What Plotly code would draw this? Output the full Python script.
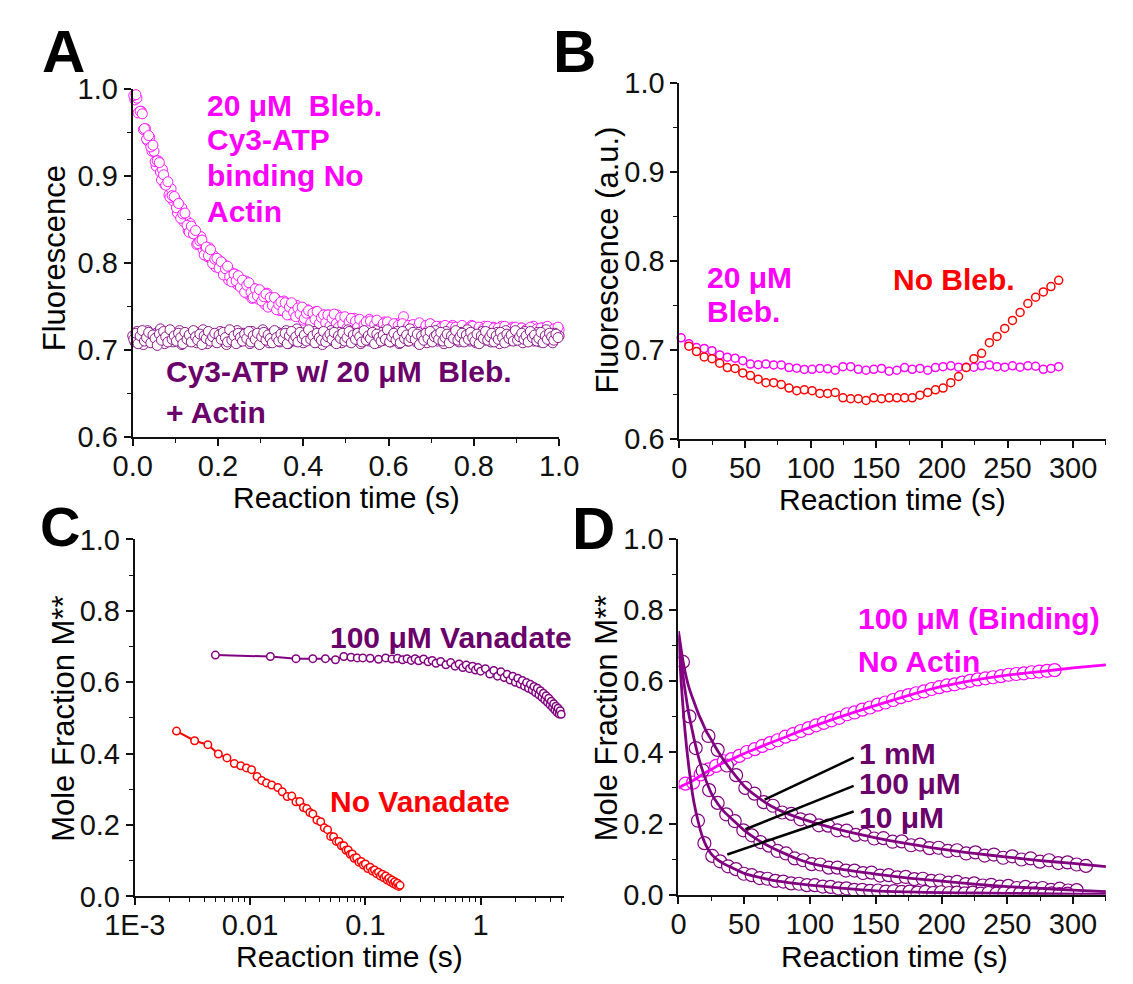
import plotly.graph_objects as go

# ---------------- data ----------------
# Panel A: Cy3-ATP binding with 20 uM blebbistatin, two interleaved shots
A_TIME = [round(0.005 * k, 4) for k in range(201)]
A_TIME_SHOT2 = [round(0.0025 + 0.005 * k, 4) for k in range(200)]
A_NO_ACTIN = [
    1.002, 0.987, 0.989, 0.973, 0.974, 0.953, 0.954, 0.940, 0.944, 0.928,
    0.928, 0.911, 0.917, 0.904, 0.907, 0.890, 0.890, 0.878, 0.885, 0.871,
    0.873, 0.857, 0.863, 0.863, 0.847, 0.849, 0.837, 0.845, 0.834, 0.837,
    0.821, 0.828, 0.830, 0.815, 0.818, 0.807, 0.817, 0.804, 0.808, 0.795,
    0.804, 0.794, 0.800, 0.787, 0.792, 0.780, 0.789, 0.780, 0.787, 0.775,
    0.779, 0.780, 0.771, 0.779, 0.764, 0.771, 0.759, 0.770, 0.765, 0.758,
    0.767, 0.758, 0.752, 0.765, 0.756, 0.751, 0.757, 0.759, 0.751, 0.745,
    0.754, 0.756, 0.743, 0.749, 0.740, 0.750, 0.741, 0.751, 0.739, 0.743,
    0.734, 0.745, 0.746, 0.737, 0.732, 0.741, 0.744, 0.733, 0.738, 0.728,
    0.740, 0.733, 0.740, 0.728, 0.736, 0.726, 0.740, 0.730, 0.735, 0.725,
    0.732, 0.726, 0.736, 0.726, 0.736, 0.723, 0.729, 0.733, 0.721, 0.730,
    0.725, 0.735, 0.722, 0.730, 0.723, 0.732, 0.720, 0.728, 0.732, 0.721,
    0.728, 0.717, 0.729, 0.722, 0.730, 0.719, 0.725, 0.738, 0.717, 0.726,
    0.720, 0.728, 0.716, 0.725, 0.728, 0.718, 0.726, 0.715, 0.727, 0.720,
    0.729, 0.716, 0.724, 0.715, 0.727, 0.720, 0.725, 0.714, 0.726, 0.718,
    0.728, 0.716, 0.723, 0.714, 0.726, 0.718, 0.724, 0.713, 0.723, 0.728,
    0.716, 0.722, 0.714, 0.725, 0.717, 0.727, 0.715, 0.723, 0.719, 0.726,
    0.712, 0.723, 0.715, 0.727, 0.717, 0.724, 0.713, 0.721, 0.726, 0.715,
    0.722, 0.713, 0.725, 0.717, 0.723, 0.712, 0.724, 0.716, 0.727, 0.714,
    0.721, 0.713, 0.725, 0.718, 0.726, 0.715, 0.723, 0.712, 0.724, 0.716,
    0.723,
]
A_NO_ACTIN_SHOT2 = [
    0.992, 0.993, 0.972, 0.974, 0.971, 0.954, 0.942, 0.946, 0.933, 0.935,
    0.916, 0.917, 0.915, 0.895, 0.901, 0.889, 0.893, 0.875, 0.877, 0.876,
    0.863, 0.868, 0.851, 0.856, 0.857, 0.843, 0.835, 0.842, 0.833, 0.837,
    0.822, 0.825, 0.826, 0.809, 0.818, 0.808, 0.815, 0.799, 0.804, 0.805,
    0.794, 0.801, 0.786, 0.793, 0.796, 0.784, 0.778, 0.787, 0.779, 0.785,
    0.772, 0.780, 0.766, 0.774, 0.777, 0.766, 0.760, 0.770, 0.762, 0.769,
    0.756, 0.761, 0.764, 0.749, 0.760, 0.751, 0.760, 0.746, 0.752, 0.755,
    0.745, 0.754, 0.740, 0.749, 0.754, 0.743, 0.738, 0.748, 0.741, 0.749,
    0.736, 0.742, 0.745, 0.731, 0.742, 0.735, 0.744, 0.730, 0.737, 0.740,
    0.731, 0.740, 0.727, 0.736, 0.741, 0.730, 0.726, 0.737, 0.730, 0.738,
    0.725, 0.732, 0.736, 0.721, 0.733, 0.726, 0.735, 0.722, 0.729, 0.732,
    0.723, 0.733, 0.720, 0.729, 0.734, 0.724, 0.720, 0.730, 0.724, 0.732,
    0.720, 0.726, 0.730, 0.716, 0.728, 0.721, 0.730, 0.717, 0.724, 0.728,
    0.719, 0.729, 0.716, 0.726, 0.731, 0.721, 0.717, 0.728, 0.722, 0.730,
    0.716, 0.723, 0.727, 0.713, 0.725, 0.718, 0.728, 0.715, 0.722, 0.726,
    0.716, 0.726, 0.713, 0.723, 0.728, 0.718, 0.714, 0.725, 0.719, 0.727,
    0.715, 0.722, 0.726, 0.712, 0.724, 0.717, 0.727, 0.714, 0.721, 0.725,
    0.715, 0.725, 0.712, 0.722, 0.727, 0.717, 0.713, 0.724, 0.718, 0.726,
    0.714, 0.721, 0.725, 0.711, 0.723, 0.716, 0.726, 0.713, 0.720, 0.724,
    0.715, 0.725, 0.712, 0.722, 0.727, 0.717, 0.713, 0.724, 0.718, 0.726,
]
A_ACTIN = [
    0.716, 0.709, 0.721, 0.712, 0.718, 0.706, 0.715, 0.722, 0.710, 0.717,
    0.708, 0.719, 0.713, 0.724, 0.711, 0.707, 0.718, 0.714, 0.720, 0.709,
    0.716, 0.712, 0.722, 0.706, 0.715, 0.719, 0.710, 0.717, 0.713, 0.721,
    0.708, 0.716, 0.711, 0.723, 0.714, 0.707, 0.719, 0.712, 0.718, 0.709,
    0.715, 0.721, 0.710, 0.716, 0.706, 0.720, 0.713, 0.717, 0.711, 0.722,
    0.709, 0.714, 0.719, 0.712, 0.716, 0.707, 0.721, 0.713, 0.718, 0.710,
    0.715, 0.723, 0.711, 0.717, 0.708, 0.719, 0.714, 0.712, 0.720, 0.709,
    0.716, 0.711, 0.722, 0.707, 0.715, 0.718, 0.710, 0.724, 0.713, 0.717,
    0.708, 0.720, 0.712, 0.716, 0.711, 0.721, 0.709, 0.715, 0.719, 0.706,
    0.714, 0.718, 0.711, 0.722, 0.710, 0.716, 0.713, 0.720, 0.708, 0.717,
    0.712, 0.723, 0.709, 0.715, 0.719, 0.711, 0.717, 0.707, 0.721, 0.713,
    0.716, 0.710, 0.718, 0.712, 0.722, 0.708, 0.715, 0.720, 0.711, 0.714,
    0.719, 0.709, 0.717, 0.713, 0.721, 0.707, 0.716, 0.712, 0.718, 0.710,
    0.724, 0.713, 0.715, 0.709, 0.720, 0.711, 0.717, 0.714, 0.708, 0.719,
    0.712, 0.716, 0.722, 0.710, 0.715, 0.718, 0.707, 0.721, 0.713, 0.717,
    0.711, 0.719, 0.714, 0.709, 0.720, 0.712, 0.716, 0.723, 0.710, 0.715,
    0.718, 0.708, 0.717, 0.713, 0.721, 0.711, 0.714, 0.719, 0.709, 0.716,
    0.712, 0.720, 0.707, 0.718, 0.714, 0.722, 0.710, 0.715, 0.717, 0.711,
    0.719, 0.713, 0.716, 0.708, 0.721, 0.712, 0.715, 0.718, 0.710, 0.714,
    0.720, 0.709, 0.717, 0.713, 0.723, 0.711, 0.716, 0.708, 0.719, 0.714,
    0.716,
]
A_ACTIN_SHOT2 = [
    0.712, 0.719, 0.707, 0.716, 0.722, 0.710, 0.714, 0.720, 0.708, 0.717,
    0.713, 0.705, 0.718, 0.711, 0.721, 0.715, 0.709, 0.723, 0.712, 0.716,
    0.710, 0.719, 0.714, 0.707, 0.720, 0.712, 0.717, 0.709, 0.722, 0.715,
    0.711, 0.718, 0.706, 0.716, 0.713, 0.721, 0.710, 0.715, 0.719, 0.708,
    0.717, 0.712, 0.720, 0.714, 0.709, 0.723, 0.711, 0.716, 0.707, 0.719,
    0.714, 0.710, 0.718, 0.713, 0.721, 0.709, 0.716, 0.712, 0.719, 0.706,
    0.715, 0.720, 0.711, 0.717, 0.713, 0.708, 0.722, 0.714, 0.710, 0.718,
    0.712, 0.719, 0.707, 0.716, 0.721, 0.711, 0.715, 0.709, 0.720, 0.713,
    0.717, 0.710, 0.723, 0.712, 0.716, 0.708, 0.719, 0.714, 0.711, 0.721,
    0.709, 0.715, 0.718, 0.712, 0.720, 0.707, 0.716, 0.713, 0.719, 0.710,
    0.714, 0.721, 0.708, 0.717, 0.712, 0.719, 0.715, 0.709, 0.722, 0.711,
    0.716, 0.713, 0.720, 0.707, 0.718, 0.714, 0.710, 0.717, 0.712, 0.723,
    0.709, 0.715, 0.719, 0.711, 0.716, 0.708, 0.721, 0.713, 0.717, 0.710,
    0.714, 0.720, 0.712, 0.718, 0.706, 0.716, 0.711, 0.719, 0.713, 0.721,
    0.709, 0.715, 0.717, 0.712, 0.720, 0.710, 0.714, 0.718, 0.708, 0.716,
    0.713, 0.722, 0.711, 0.715, 0.719, 0.709, 0.717, 0.712, 0.720, 0.714,
    0.710, 0.718, 0.707, 0.716, 0.713, 0.721, 0.711, 0.715, 0.719, 0.709,
    0.716, 0.712, 0.720, 0.714, 0.708, 0.718, 0.713, 0.717, 0.710, 0.722,
    0.711, 0.715, 0.719, 0.712, 0.716, 0.709, 0.721, 0.714, 0.717, 0.710,
    0.713, 0.720, 0.708, 0.716, 0.712, 0.719, 0.715, 0.711, 0.718, 0.714,
]

# Panel B: slow fluorescence traces
B_TIME = [
    1.3, 7.2, 13.0, 18.9, 24.8, 30.7, 36.5, 42.4, 48.3, 54.1,
    60.0, 65.9, 71.8, 77.6, 83.5, 89.4, 95.2, 101.1, 107.0, 112.9,
    118.7, 124.6, 130.5, 136.3, 142.2, 148.1, 154.0, 159.8, 165.7, 171.6,
    177.4, 183.3, 189.2, 195.1, 200.9, 206.8, 212.7, 218.5, 224.4, 230.3,
    236.2, 242.0, 247.9, 253.8, 259.6, 265.5, 271.4, 277.3, 283.1, 289.0,
]
B_BLEB = [
    0.7134, 0.7069, 0.7025, 0.7015, 0.699, 0.6942, 0.6917, 0.6906, 0.6877, 0.684,
    0.6833, 0.684, 0.683, 0.683, 0.680, 0.6793, 0.6779, 0.678, 0.679, 0.6786,
    0.677, 0.681, 0.681, 0.678, 0.677, 0.678, 0.679, 0.676, 0.677, 0.680,
    0.678, 0.679, 0.677, 0.680, 0.681, 0.682, 0.6805, 0.6805, 0.6805, 0.682,
    0.683, 0.681, 0.6805, 0.682, 0.6805, 0.682, 0.6815, 0.678, 0.679, 0.681,
]
B_NO_BLEB = [
    None, 0.704, 0.698, 0.692, 0.690, 0.685, 0.680, 0.679, 0.674, 0.671,
    0.667, 0.663, 0.663, 0.661, 0.657, 0.654, 0.655, 0.654, 0.651, 0.651,
    0.652, 0.646, 0.645, 0.645, 0.643, 0.646, 0.645, 0.646, 0.646, 0.646,
    0.646, 0.649, 0.652, 0.655, 0.657, 0.663, 0.670, 0.680, 0.690, 0.696,
    0.708, 0.715, 0.724, 0.733, 0.742, 0.752, 0.759, 0.765, 0.771, 0.778,
]

# Panel C: mole fraction M** on a log time axis
C_TIME_VAN = [
    0.005, 0.015, 0.025, 0.035, 0.045, 0.055, 0.065, 0.075, 0.085, 0.095,
    0.11, 0.13, 0.15, 0.17, 0.19, 0.21, 0.23, 0.25, 0.27, 0.29,
    0.32, 0.35, 0.38, 0.41, 0.45,
    0.5, 0.55, 0.6, 0.65, 0.7, 0.75, 0.8, 0.85, 0.9, 0.95, 1.0,
    1.1, 1.2, 1.3, 1.4, 1.5, 1.6, 1.7, 1.8, 1.9, 2.0,
    2.1, 2.2, 2.3, 2.4, 2.5, 2.6, 2.7, 2.8, 2.9, 3.0,
    3.1, 3.2, 3.3, 3.4, 3.5, 3.6, 3.7, 3.8, 3.9, 4.0,
    4.1, 4.2, 4.3, 4.4, 4.5, 4.6, 4.7, 4.8, 4.9, 5.0,
]
C_VAN = [
    0.676, 0.672, 0.666, 0.666, 0.666, 0.663, 0.672, 0.670, 0.668, 0.668,
    0.667, 0.664, 0.668, 0.665, 0.667, 0.663, 0.666, 0.661, 0.666, 0.660,
    0.665, 0.657, 0.661, 0.653, 0.658,
    0.649, 0.655, 0.645, 0.651, 0.641, 0.648, 0.638, 0.645, 0.634, 0.641, 0.631,
    0.638, 0.623, 0.633, 0.617, 0.629, 0.613, 0.622, 0.606, 0.617, 0.600,
    0.611, 0.595, 0.605, 0.589, 0.599, 0.583, 0.594, 0.578, 0.588, 0.571,
    0.583, 0.565, 0.576, 0.558, 0.569, 0.551, 0.562, 0.544, 0.555, 0.537,
    0.547, 0.530, 0.540, 0.523, 0.533, 0.516, 0.527, 0.511, 0.520, 0.510,
]
C_TIME_NO = [
    0.0023, 0.0033, 0.0043, 0.0053, 0.0063, 0.0073, 0.0083, 0.0093, 0.0103,
    0.0115, 0.0126, 0.0139, 0.0154, 0.0174,
    0.019, 0.021, 0.023, 0.025, 0.027, 0.029, 0.031, 0.033, 0.035,
    0.038, 0.041, 0.044, 0.047, 0.050, 0.053, 0.056, 0.059, 0.062, 0.065,
    0.068, 0.071, 0.074, 0.077, 0.080,
    0.084, 0.088, 0.092, 0.096, 0.100,
    0.105, 0.110, 0.115, 0.120, 0.125, 0.130, 0.135, 0.140, 0.145, 0.150,
    0.155, 0.160, 0.165, 0.170, 0.175, 0.180, 0.185, 0.190, 0.195, 0.200,
]
C_NO = [
    0.463, 0.436, 0.425, 0.399, 0.388, 0.372, 0.366, 0.360, 0.355,
    0.336, 0.325, 0.318, 0.312, 0.305,
    0.293, 0.280, 0.281, 0.265, 0.266, 0.249, 0.246, 0.235, 0.231,
    0.214, 0.209, 0.192, 0.187, 0.168, 0.167, 0.154, 0.154, 0.142, 0.142,
    0.129, 0.130, 0.118, 0.119, 0.107,
    0.108, 0.096, 0.098, 0.088, 0.091,
    0.078, 0.082, 0.071, 0.074, 0.064, 0.068, 0.057, 0.062, 0.052, 0.057,
    0.046, 0.051, 0.041, 0.046, 0.036, 0.041, 0.032, 0.037, 0.028, 0.031,
]
C_TICKVALS = [0.001, 0.01, 0.1, 1]
C_TICKTEXT = ["1E-3", "0.01", "0.1", "1"]

# Panel D: vanadate release / binding with fitted curves
D_FIT_TIME = [0, 2, 4, 6, 8, 10, 12, 15, 18, 21, 25, 30, 35, 40, 50, 60, 70, 80,
              90, 100, 120, 150, 175, 200, 225, 250, 275, 300, 325]
D_FIT_1MM = [0.74, 0.69, 0.645, 0.61, 0.582, 0.56, 0.54, 0.51, 0.485, 0.46, 0.435,
             0.403, 0.375, 0.35, 0.305, 0.275, 0.25, 0.232, 0.218, 0.206, 0.185,
             0.16, 0.143, 0.128, 0.116, 0.106, 0.096, 0.088, 0.079]
D_FIT_100UM = [0.73, 0.66, 0.60, 0.55, 0.505, 0.47, 0.435, 0.39, 0.352, 0.32, 0.285,
               0.255, 0.232, 0.215, 0.181, 0.155, 0.134, 0.117, 0.101, 0.089, 0.074,
               0.058, 0.047, 0.038, 0.030, 0.023, 0.018, 0.013, 0.009]
D_FIT_10UM = [0.72, 0.60, 0.50, 0.42, 0.355, 0.30, 0.255, 0.205, 0.165, 0.138, 0.114,
              0.097, 0.086, 0.077, 0.060, 0.050, 0.042, 0.036, 0.031, 0.027, 0.020,
              0.011, 0.008, 0.006, 0.005, 0.004, 0.003, 0.002, 0.002]
D_FIT_BIND = [0.30, 0.304, 0.308, 0.312, 0.315, 0.318, 0.323, 0.330, 0.337, 0.344,
              0.352, 0.363, 0.372, 0.380, 0.397, 0.412, 0.427, 0.441, 0.456, 0.470,
              0.496, 0.532, 0.560, 0.585, 0.603, 0.617, 0.627, 0.637, 0.646]

D_TIME_1MM = [3.4, 22.8, 29.8, 36.8, 43.8, 50.8, 57.8, 64.8, 71.8, 78.8, 85.8,
              92.8, 99.8, 106.8, 113.8, 120.8, 127.8, 134.8, 141.8, 148.8, 155.8,
              162.8, 169.8, 176.8, 183.8, 190.8, 197.8, 204.8, 211.8, 218.8, 225.8,
              232.8, 239.8, 246.8, 253.8, 260.8, 267.8, 274.8, 281.8, 288.8, 295.8,
              302.8, 309.8]
D_1MM = [0.654, 0.446, 0.407, 0.363, 0.336, 0.300, 0.284, 0.260, 0.250, 0.231, 0.227,
         0.212, 0.209, 0.195, 0.194, 0.181, 0.180, 0.168, 0.169, 0.158, 0.159,
         0.149, 0.150, 0.139, 0.141, 0.131, 0.132, 0.123, 0.125, 0.116, 0.119,
         0.110, 0.113, 0.104, 0.108, 0.099, 0.102, 0.093, 0.097, 0.089, 0.091,
         0.085, 0.081]
D_TIME_100UM = [8.3, 13.1, 18.4, 23.3, 29.8, 36.3, 42.8, 49.3, 55.8, 62.3, 68.8,
                75.3, 81.8, 88.3, 94.8, 101.3, 107.8, 114.3, 120.8, 127.3, 133.8,
                140.3, 146.8, 153.3, 159.8, 166.3, 172.8, 179.3, 185.8, 192.3, 198.8,
                205.3, 211.8, 218.3, 224.8, 231.3, 237.8, 244.3, 250.8, 257.3, 263.8,
                270.3, 276.8, 283.3, 289.8, 296.3, 302.8]
D_100UM = [0.501, 0.412, 0.349, 0.294, 0.258, 0.226, 0.207, 0.181, 0.167, 0.148, 0.138,
           0.123, 0.116, 0.102, 0.097, 0.086, 0.085, 0.076, 0.076, 0.068, 0.068,
           0.061, 0.062, 0.054, 0.055, 0.049, 0.050, 0.044, 0.045, 0.039, 0.040,
           0.034, 0.036, 0.030, 0.032, 0.026, 0.028, 0.023, 0.025, 0.019, 0.022,
           0.017, 0.019, 0.014, 0.017, 0.012, 0.013]
D_TIME_10UM = [14.8, 19.7, 25.7, 31.7, 37.7, 43.7, 49.7, 55.7, 61.7, 67.7, 73.7,
               79.7, 85.7, 91.7, 97.7, 103.7, 109.7, 115.7, 121.7, 127.7, 133.7,
               139.7, 145.7, 151.7, 157.7, 163.7, 169.7, 175.7, 181.7, 187.7, 193.7,
               199.7, 205.7, 211.7, 217.7, 223.7, 229.7, 235.7, 241.7, 247.7, 253.7,
               259.7, 265.7, 271.7, 277.7, 283.7, 289.7, 295.7]
D_10UM = [0.208, 0.145, 0.109, 0.094, 0.080, 0.072, 0.059, 0.055, 0.047, 0.045, 0.039,
          0.037, 0.032, 0.031, 0.027, 0.027, 0.023, 0.022, 0.018, 0.018, 0.014,
          0.014, 0.011, 0.012, 0.009, 0.010, 0.008, 0.009, 0.006, 0.008, 0.005,
          0.007, 0.005, 0.006, 0.004, 0.006, 0.003, 0.005, 0.003, 0.005, 0.003,
          0.004, 0.002, 0.004, 0.002, 0.004, 0.002, 0.003]
D_TIME_BIND = [5.2, 11.1, 16.9, 22.8, 28.6, 34.5, 40.3, 46.2, 52.0, 57.9, 63.7,
               69.6, 75.4, 81.3, 87.1, 93.0, 98.8, 104.7, 110.5, 116.4, 122.2,
               128.1, 133.9, 139.8, 145.6, 151.5, 157.3, 163.2, 169.0, 174.9, 180.7,
               186.6, 192.4, 198.3, 204.1, 210.0, 215.8, 221.7, 227.5, 233.4, 239.2,
               245.1, 250.9, 256.8, 262.6, 268.5, 274.3, 280.2, 286.0]
D_BIND = [0.312, 0.315, 0.338, 0.352, 0.362, 0.375, 0.381, 0.390, 0.401, 0.409, 0.418,
          0.426, 0.434, 0.444, 0.451, 0.460, 0.468, 0.476, 0.483, 0.490, 0.497,
          0.507, 0.512, 0.520, 0.526, 0.534, 0.540, 0.547, 0.555, 0.561, 0.566,
          0.571, 0.578, 0.583, 0.588, 0.591, 0.596, 0.601, 0.605, 0.608, 0.611,
          0.614, 0.618, 0.620, 0.622, 0.625, 0.627, 0.629, 0.631]

# pointer lines from the concentration labels to the curves (data units, panel D)
D_POINTERS = [
    (65.5, 0.267, 133.2, 0.385),
    (50.9, 0.184, 133.2, 0.306),
    (37.1, 0.113, 133.2, 0.234),
]

# ---------------- style ----------------
W, H = 1133, 984
FONT = "Liberation Sans, Arial, Helvetica, sans-serif"
MAGENTA = "#FF00FF"
RED = "#FF0000"
PURPLE = "#800080"
PURPLE_TEXT = "#6A006A"
INK = "#111111"


def px(x):
    return x / W


def py(y):
    return 1 - y / H


fig = go.Figure()


def circles(x, y, color, size, xa, ya, width=1.0, line=None, clip=True):
    mode = "lines+markers" if line else "markers"
    fig.add_trace(go.Scatter(
        x=x, y=y, mode=mode, xaxis=xa, yaxis=ya, cliponaxis=clip,
        marker=dict(symbol="circle", size=size, color="white",
                    line=dict(color=color, width=width)),
        line=dict(color=color, width=line or 0),
        showlegend=False, hoverinfo="skip",
    ))


def curve(x, y, color, xa, ya, width=2.8):
    fig.add_trace(go.Scatter(
        x=x, y=y, mode="lines", xaxis=xa, yaxis=ya,
        line=dict(color=color, width=width, shape="spline", smoothing=0.6),
        showlegend=False, hoverinfo="skip",
    ))


# Panel A
circles(A_TIME, A_NO_ACTIN, MAGENTA, 10, "x", "y", 0.9, clip=False)
circles(A_TIME_SHOT2, A_NO_ACTIN_SHOT2, MAGENTA, 10, "x", "y", 0.9, clip=False)
circles(A_TIME, A_ACTIN, PURPLE, 10, "x", "y", 0.9, clip=False)
circles(A_TIME_SHOT2, A_ACTIN_SHOT2, PURPLE, 10, "x", "y", 0.9, clip=False)
# Panel B
circles(B_TIME, B_BLEB, MAGENTA, 8, "x2", "y2", 1.5, clip=False)
circles(B_TIME, B_NO_BLEB, RED, 8, "x2", "y2", 1.5, clip=False)
# Panel C
circles(C_TIME_VAN, C_VAN, PURPLE, 7.5, "x3", "y3", 1.5, line=2, clip=False)
circles(C_TIME_NO, C_NO, RED, 7.5, "x3", "y3", 1.5, line=2, clip=False)
# Panel D
circles(D_TIME_BIND, D_BIND, MAGENTA, 13, "x4", "y4", 1.2)
circles(D_TIME_1MM, D_1MM, PURPLE, 13, "x4", "y4", 1.2)
circles(D_TIME_100UM, D_100UM, PURPLE, 13, "x4", "y4", 1.2)
circles(D_TIME_10UM, D_10UM, PURPLE, 13, "x4", "y4", 1.2)
curve(D_FIT_TIME, D_FIT_BIND, MAGENTA, "x4", "y4")
curve(D_FIT_TIME, D_FIT_1MM, PURPLE, "x4", "y4")
curve(D_FIT_TIME, D_FIT_100UM, PURPLE, "x4", "y4")
curve(D_FIT_TIME, D_FIT_10UM, PURPLE, "x4", "y4")

tickfont = dict(family=FONT, size=29, color=INK)


def axis(domain, anchor, rng, dtick, minor_dtick, fmt=None, **kw):
    d = dict(
        domain=domain, anchor=anchor, range=rng, dtick=dtick, tick0=0,
        showline=True, linewidth=2, linecolor=INK, mirror=False,
        ticks="outside", ticklen=7, tickwidth=1.6, tickcolor=INK,
        showgrid=False, zeroline=False, tickfont=tickfont,
        minor=dict(ticks="outside", ticklen=4, tickwidth=1.4, tickcolor=INK,
                   dtick=minor_dtick, showgrid=False),
        fixedrange=True,
    )
    if fmt:
        d["tickformat"] = fmt
    d.update(kw)
    return d


# x tick labels sit close under the axis
XSTAND = -5
xa_A = axis([px(106.5), px(553)], "y", [0, 1.0], 0.2, 0.1, ".1f", ticklabelstandoff=XSTAND)
ya_A = axis([py(435), py(75)], "x", [0.6, 1.0], 0.1, 0.05, ".1f")
xa_B = axis([px(679), px(1125.6)], "y2", [0, 325], 50, 25, ticklabelstandoff=XSTAND)
ya_B = axis([py(437), py(69)], "x2", [0.6, 1.0], 0.1, 0.05, ".1f")
xa_C = axis([px(108.7), px(558)], "y3", [-3, 0.722], None, None,
            type="log", tickmode="array", tickvals=C_TICKVALS, ticktext=C_TICKTEXT,
            ticklabelstandoff=XSTAND)
xa_C["minor"] = dict(ticks="outside", ticklen=4, tickwidth=1.4, tickcolor=INK,
                     tickmode="array", showgrid=False,
                     tickvals=[m * 10 ** e for e in (-3, -2, -1, 0) for m in range(2, 10)
                               if m * 10 ** e <= 5.3])
xa_C.pop("dtick")
xa_C.pop("tick0")
ya_C = axis([py(910), py(541)], "x3", [0, 1.0], 0.2, 0.1, ".1f")
xa_D = axis([px(678), px(1125.6)], "y4", [0, 325], 50, 25, ticklabelstandoff=XSTAND)
ya_D = axis([py(908.3), py(540.3)], "x4", [0, 1.0], 0.2, 0.1, ".1f")

annotations = []


def label(text, x, y, color, size=30, bold=True, xanchor="left", angle=0):
    annotations.append(dict(
        text=f"<b>{text}</b>" if bold else text, x=px(x), y=py(y),
        xref="paper", yref="paper", xanchor=xanchor, yanchor="middle",
        showarrow=False, textangle=angle,
        font=dict(family=FONT, size=size, color=color),
    ))


# panel letters
for letter, x, y, s in [("A", 33.6, 36.5, 60), ("B", 569.5, 36.5, 60),
                        ("C", 30, 528, 56), ("D", 589, 530, 60)]:
    label(letter, x, y, "#000000", size=s, xanchor="center")

# axis titles
for text, x, y in [("Reaction time (s)", 330, 498), ("Reaction time (s)", 902, 500),
                   ("Reaction time (s)", 333, 972), ("Reaction time (s)", 904, 972)]:
    label(text, x, y, "#000000", size=30, bold=False, xanchor="center")
for text, x, y in [("Fluorescence", 25.5, 250), ("Fluorescence (a.u.)", 604, 252),
                   ("Mole Fraction M**", 34, 726), ("Mole Fraction M**", 603, 726)]:
    label(text, x, y, "#000000", size=31, bold=False, xanchor="center", angle=-90)

# series labels
NB = "\u00a0"
label(f"20 μM{NB} Bleb.", 182, 92, MAGENTA)
label("Cy3-ATP", 182, 128, MAGENTA)
label("binding No", 182, 165, MAGENTA)
label("Actin", 182, 202, MAGENTA)
label(f"Cy3-ATP w/ 20 μM{NB} Bleb.", 139, 367, PURPLE_TEXT)
label("+ Actin", 139, 410, PURPLE_TEXT)

label("20 μM", 706, 270, MAGENTA)
label("Bleb.", 706, 305, MAGENTA)
label("No Bleb.", 901, 272, RED)

label("100 μM Vanadate", 311, 642, PURPLE_TEXT)
label("No Vanadate", 311, 812, RED)

label("100 μM (Binding)", 864, 623, MAGENTA)
label("No Actin", 864, 667, MAGENTA)
label("1 mM", 864.5, 762, PURPLE_TEXT)
label("100 μM", 864.5, 793, PURPLE_TEXT)
label("10 μM", 864.5, 828, PURPLE_TEXT)

shapes = [dict(type="line", xref="x4", yref="y4", x0=a, y0=b, x1=c, y1=d,
               line=dict(color="#000000", width=2.5)) for a, b, c, d in D_POINTERS]

fig.update_layout(
    width=W, height=H, autosize=False,
    margin=dict(l=0, r=0, t=0, b=0, pad=0),
    paper_bgcolor="white", plot_bgcolor="white",
    showlegend=False,
    xaxis=xa_A, yaxis=ya_A, xaxis2=xa_B, yaxis2=ya_B,
    xaxis3=xa_C, yaxis3=ya_C, xaxis4=xa_D, yaxis4=ya_D,
    annotations=annotations, shapes=shapes,
    font=dict(family=FONT, color=INK),
)

fig.write_html("out.html", config={"displayModeBar": False})
